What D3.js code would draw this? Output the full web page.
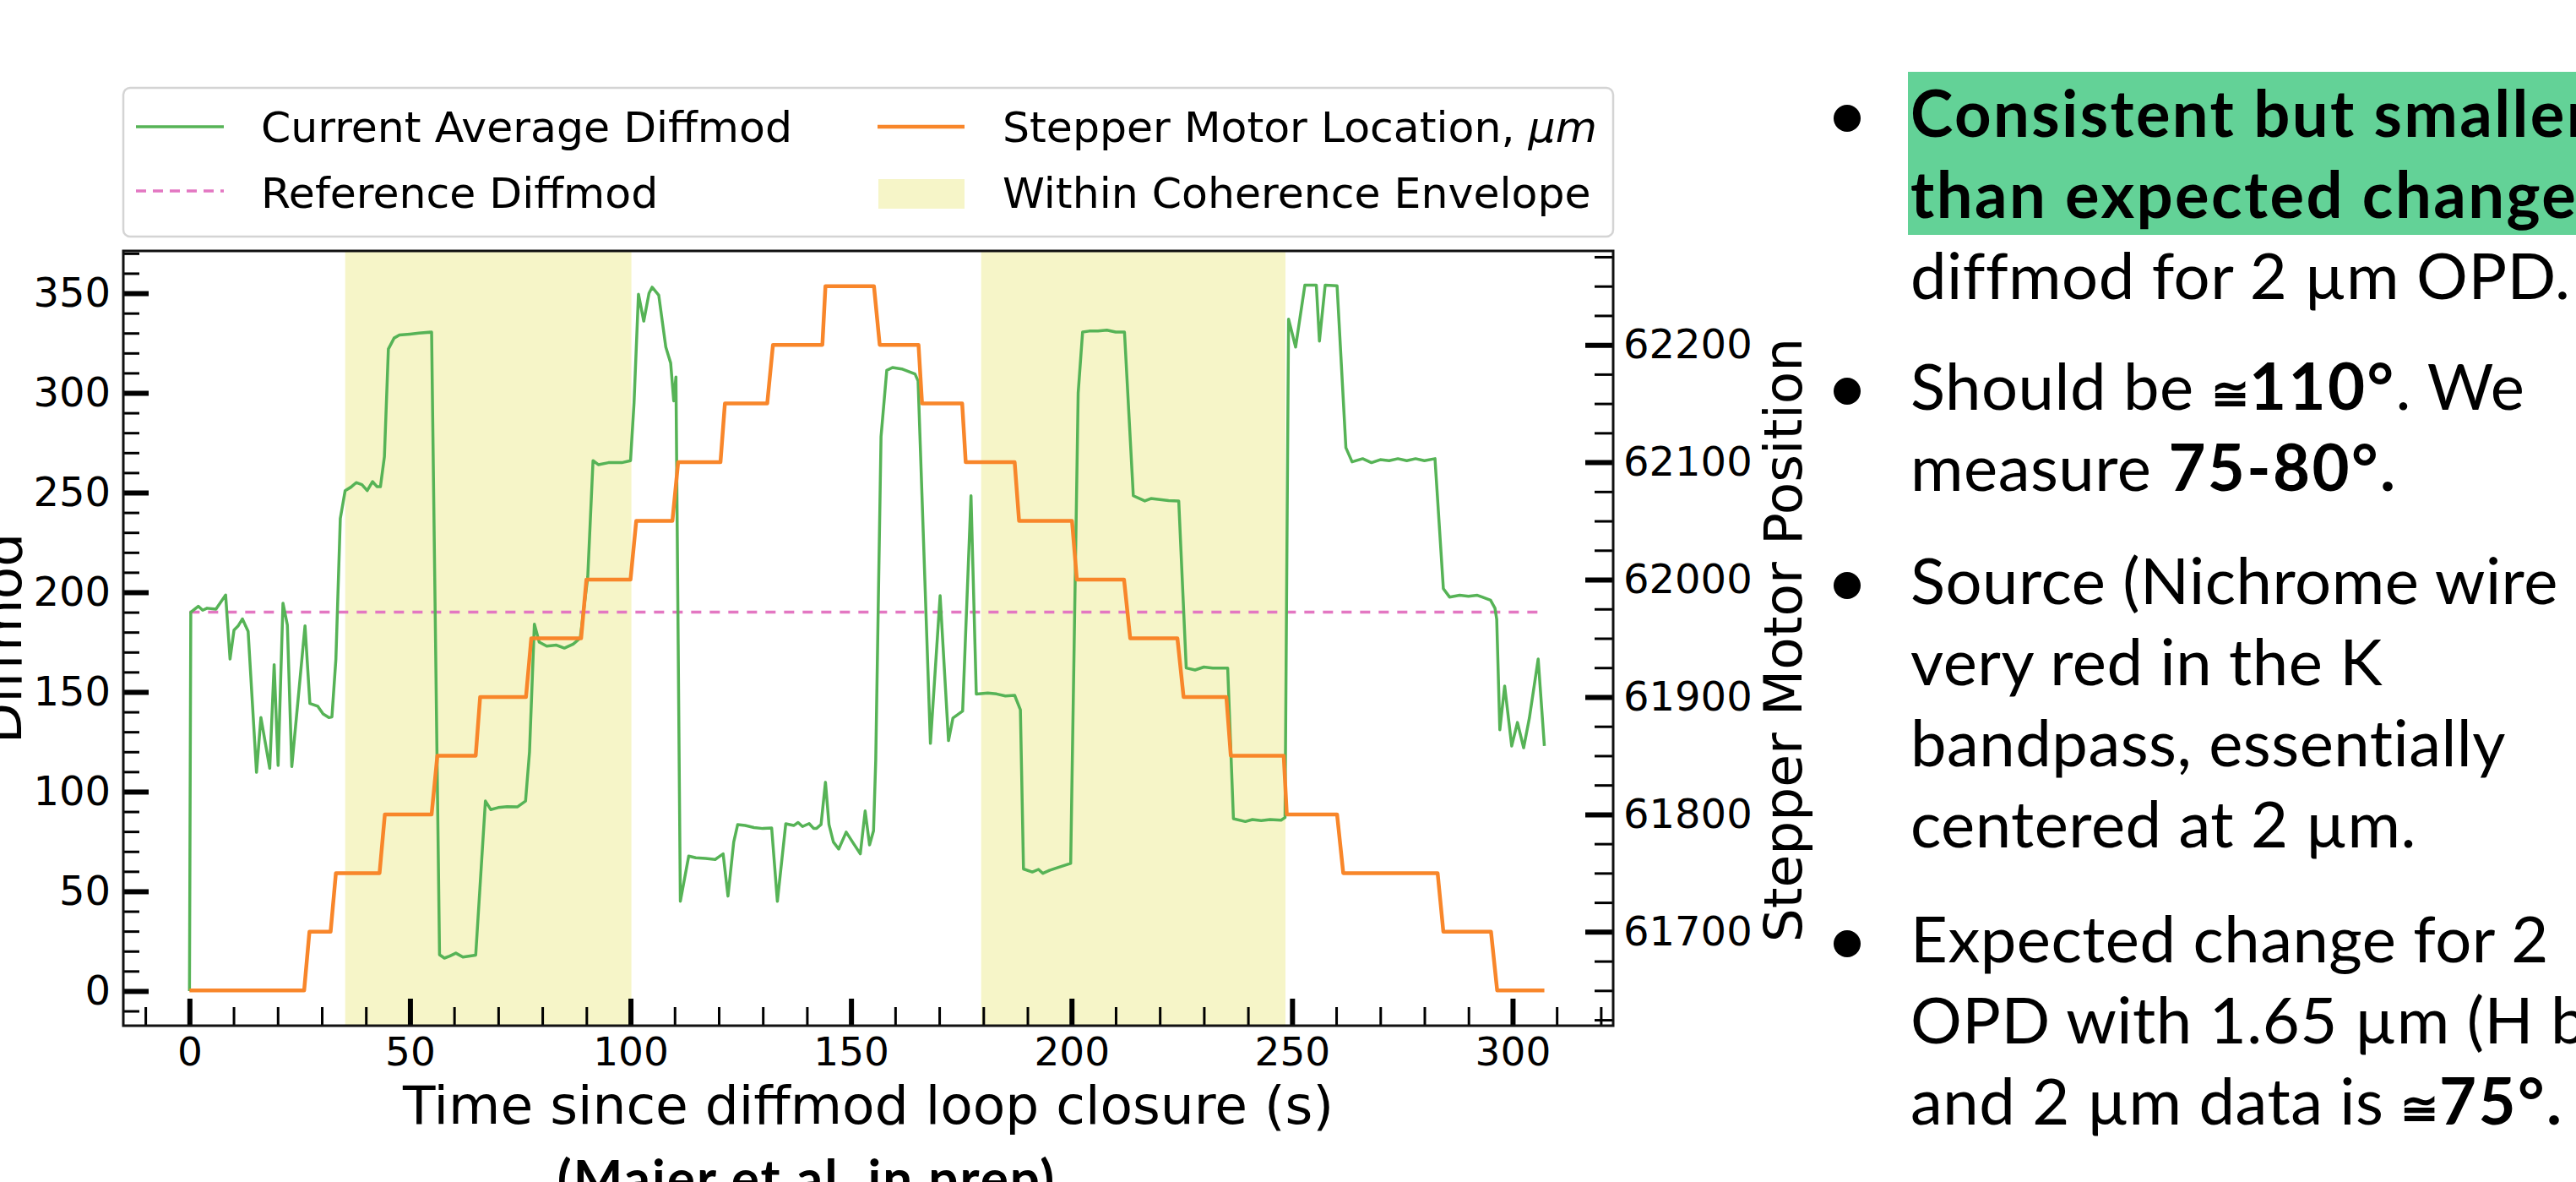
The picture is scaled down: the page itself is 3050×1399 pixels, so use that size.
<!DOCTYPE html>
<html>
<head>
<meta charset="utf-8">
<script src="https://cdn.jsdelivr.net/npm/d3@7"></script>
<style>
  html, body { margin: 0; padding: 0; background: #fff; }
  svg { display: block; }
</style>
</head>
<body>
<script>
// values
const diffmod = [
  [0, 0], [0.3, 190], [2, 193], [3, 191], [4, 192], [6, 191.5], [8.2, 198.6], [9.2, 166.5], [10.1, 181],
  [11, 183], [12, 186.6], [13.3, 180.4], [15.2, 109.7], [16.2, 137.2], [18.2, 111.7], [19.2, 163.7],
  [20.1, 113.1], [21.2, 194.5], [22.2, 183.5], [23.2, 112.6], [26.2, 183.2], [27.3, 144.2], [29.1, 142.8],
  [30.3, 139], [31.6, 137.2], [32.3, 137.5], [33.2, 166.5], [34.2, 237], [35.3, 251], [36.6, 252.7],
  [37.8, 255], [39.1, 254], [40.3, 251], [41.5, 255.5], [42.5, 253], [43.3, 253], [44.2, 268], [45.1, 322],
  [46.4, 327.5], [47.6, 329], [50, 329.5], [52, 330], [54.9, 330.5], [56.7, 18.2], [57.8, 16.5], [59, 17.5],
  [60.4, 19], [62, 17], [64.9, 18], [67.1, 95.3], [68.3, 91], [70, 92], [72, 92.5], [74.4, 92.4], [76.2, 95.3],
  [77.1, 120], [78.2, 184], [79.3, 175], [81, 173], [83.2, 173.5], [85, 172], [87, 174], [88.6, 177],
  [90.3, 207.6], [91.5, 266], [92.7, 264], [95, 265], [98, 265], [100, 266], [100.8, 295], [101.8, 349.5],
  [103, 336], [104.2, 350], [104.9, 353], [106.4, 349], [108, 323], [109.1, 315], [109.8, 296], [110.3, 308],
  [111.3, 45], [113.2, 67.7], [114.8, 66.8], [117, 66.5], [119.2, 66], [121, 68.8], [122.1, 47.6],
  [123.4, 74.7], [124.3, 83.5], [126, 83], [128, 82], [130, 81.5], [132, 81.8], [133.3, 45], [135.2, 83.9],
  [137, 83], [138, 84.5], [139, 82.5], [140.5, 84], [141.5, 81.6], [142.2, 81.6], [143.2, 83.5],
  [144.2, 104.7], [145, 83.5], [146, 74.7], [147.2, 71.2], [148.9, 79.7], [150.5, 74.2], [152.1, 68.8],
  [153.2, 90.3], [154.2, 73.3], [155.1, 80.4], [155.6, 115.7], [156.8, 278], [158.1, 311.3], [159.4, 312.7],
  [161.5, 312], [164.5, 309.5], [165.2, 306], [168, 124.2], [170.2, 198.3], [172.1, 125.6], [173.1, 136.9],
  [175.3, 140.4], [177.2, 248.4], [178.4, 148.9], [181, 149.5], [183, 149], [185, 148], [187.1, 148.3],
  [188.4, 141], [189.1, 61.2], [191.1, 59.7], [192.5, 61], [193.5, 59], [195, 60.5], [197, 62], [199.8, 64],
  [201.5, 300], [202.5, 330.5], [204, 331], [206, 331], [208, 331.5], [210, 330.5], [212, 330.5],
  [214, 248.4], [216.6, 245.8], [218, 247], [220, 246.5], [222, 246], [224.3, 245.8], [226, 162], [228, 161],
  [230, 162.5], [232, 162], [235.4, 162], [236.7, 86.4], [239.4, 85], [241, 86], [243, 85.5], [245, 86],
  [247.5, 85.7], [248.4, 87], [249.2, 337], [250.8, 323], [252.9, 354], [255.5, 354], [256.2, 326],
  [257.5, 354], [260.2, 353.7], [262.2, 272.5], [263.6, 265.4], [266, 267], [268, 265], [270, 266.5],
  [272, 266], [274, 267], [276, 266], [278, 267], [280, 266], [282.4, 267], [284.3, 201.8], [285.7, 197.6],
  [288, 198.5], [290, 198], [292, 198.5], [293.1, 197.6], [295, 196], [296, 192], [296.4, 186.4],
  [297.1, 131], [298.2, 153], [299.8, 122.9], [301.1, 134.7], [302.5, 122], [303.8, 136.9], [305.8, 166.5],
  [307.2, 122.9]
];

const stepper = [
  [0, 61650], [26, 61650], [27.2, 61700], [32, 61700], [33.2, 61750], [43.1, 61750], [44.3, 61800],
  [54.9, 61800], [56.2, 61850], [64.9, 61850], [65.9, 61900], [76.3, 61900], [77.5, 61950], [88.8, 61950],
  [90, 62000], [100, 62000], [101.3, 62050], [109.5, 62050], [110.8, 62100], [120.4, 62100], [121.4, 62150],
  [131, 62150], [132.3, 62200], [143.5, 62200], [144.2, 62250], [155.2, 62250], [156.5, 62200], [165.3, 62200],
  [166.1, 62150], [175.2, 62150], [176, 62100], [187.1, 62100], [188.1, 62050], [200.1, 62050], [201.2, 62000],
  [211.9, 62000], [213.3, 61950], [224, 61950], [225.4, 61900], [235.1, 61900], [236.1, 61850], [248.1, 61850],
  [248.8, 61800], [260.2, 61800], [261.6, 61750], [283, 61750], [284.3, 61700], [295.1, 61700], [296.5, 61650],
  [307.2, 61650]
];

const referenceDiffmod = 190;
const referenceRange = [0, 307.2];
const coherenceSpans = [[35.3, 100.2], [179.5, 248.5]];

const xTicks = [0, 50, 100, 150, 200, 250, 300];
const leftTicks = [0, 50, 100, 150, 200, 250, 300, 350];
const rightTicks = [61700, 61800, 61900, 62000, 62100, 62200];

const legendLabels = ["Current Average Diffmod", "Reference Diffmod", "Stepper Motor Location, ", "Within Coherence Envelope"];
const xLabel = "Time since diffmod loop closure (s)";
const leftLabel = "Diffmod";
const rightLabel = "Stepper Motor Position";
const citation = "(Maier et al. in prep)";

// right-hand notes, each line is a list of [text, style]; style: 0 regular, 1 bold, 2 bold symbol
const noteLines = [
  [["Consistent but smaller", 1]],
  [["than expected change", 1]],
  [["diffmod for 2 µm OPD.", 0]],
  [["Should be ", 0], ["≅", 2], ["110°", 1], [". We", 0]],
  [["measure ", 0], ["75-80°.", 1]],
  [["Source (Nichrome wire", 0]],
  [["very red in the K", 0]],
  [["bandpass, essentially", 0]],
  [["centered at 2 µm.", 0]],
  [["Expected change for 2", 0]],
  [["OPD with 1.65 µm (H ba", 0]],
  [["and 2 µm data is ", 0], ["≅", 2], ["75°.", 1]]
];

const W = 3050, H = 1399;
const plotLeft = 146, plotRight = 1910, plotTop = 297, plotBottom = 1214;
const green = "#56b356", orange = "#f8862a", pink = "#e377c2", span = "#f6f5c8";
const chartFont = "'DejaVu Sans', sans-serif";
const noteFont = "Lato, 'Open Sans', sans-serif";

const svg = d3.select("body").append("svg")
  .attr("width", W)
  .attr("height", H);

const x = d3.scaleLinear().domain([-15, 322.8]).range([plotLeft, plotRight]);
const yLeft = d3.scaleLinear().domain([-17.4, 371.2]).range([plotBottom, plotTop]);
const yRight = d3.scaleLinear().domain([61620, 62280]).range([plotBottom, plotTop]);

// coherence envelope bands
svg.append("g").selectAll("rect")
  .data(coherenceSpans)
  .join("rect")
  .attr("x", d => x(d[0]))
  .attr("width", d => x(d[1]) - x(d[0]))
  .attr("y", plotTop)
  .attr("height", plotBottom - plotTop)
  .attr("fill", span);

svg.append("line")
  .attr("x1", x(referenceRange[0]))
  .attr("x2", x(referenceRange[1]))
  .attr("y1", yLeft(referenceDiffmod))
  .attr("y2", yLeft(referenceDiffmod))
  .attr("stroke", pink)
  .attr("stroke-width", 3.5)
  .attr("stroke-dasharray", "12,10");

const diffLine = d3.line().x(d => x(d[0])).y(d => yLeft(d[1]));
svg.append("path")
  .attr("d", diffLine(diffmod))
  .attr("fill", "none")
  .attr("stroke", green)
  .attr("stroke-width", 3.5)
  .attr("stroke-linejoin", "round");

const stepLine = d3.line().x(d => x(d[0])).y(d => yRight(d[1]));
svg.append("path")
  .attr("d", stepLine(stepper))
  .attr("fill", "none")
  .attr("stroke", orange)
  .attr("stroke-width", 4.5)
  .attr("stroke-linejoin", "round");

// axes, ticks point inward
const styleAxis = function(g, width, size) {
  g.select(".domain").remove();
  g.selectAll(".tick line").attr("stroke", "#000").attr("stroke-width", width);
  g.selectAll(".tick text")
    .attr("fill", "#000")
    .attr("font-family", chartFont)
    .attr("font-size", size);
};

const xMinor = d3.range(-10, 321, 10).filter(v => v % 50 !== 0);
const leftMinor = d3.range(-10, 371, 10).filter(v => v % 50 !== 0);
const rightMinor = d3.range(61625, 62280, 25).filter(v => v % 100 !== 0);

svg.append("g")
  .attr("transform", `translate(0,${plotBottom})`)
  .call(d3.axisBottom(x).tickValues(xMinor).tickSize(-22).tickFormat(""))
  .call(g => styleAxis(g, 3, 0));
svg.append("g")
  .attr("transform", `translate(0,${plotBottom})`)
  .call(d3.axisBottom(x).tickValues(xTicks).tickSize(-32).tickPadding(14))
  .call(g => styleAxis(g, 6, 47));

svg.append("g")
  .attr("transform", `translate(${plotLeft},0)`)
  .call(d3.axisLeft(yLeft).tickValues(leftMinor).tickSize(-19).tickFormat(""))
  .call(g => styleAxis(g, 3, 0));
svg.append("g")
  .attr("transform", `translate(${plotLeft},0)`)
  .call(d3.axisLeft(yLeft).tickValues(leftTicks).tickSize(-30).tickPadding(15))
  .call(g => styleAxis(g, 6, 48));

svg.append("g")
  .attr("transform", `translate(${plotRight},0)`)
  .call(d3.axisRight(yRight).tickValues(rightMinor).tickSize(-22).tickFormat(""))
  .call(g => styleAxis(g, 3, 0));
svg.append("g")
  .attr("transform", `translate(${plotRight},0)`)
  .call(d3.axisRight(yRight).tickValues(rightTicks).tickSize(-33).tickPadding(12).tickFormat(d3.format("d")))
  .call(g => styleAxis(g, 6, 48));

svg.append("rect")
  .attr("x", plotLeft)
  .attr("y", plotTop)
  .attr("width", plotRight - plotLeft)
  .attr("height", plotBottom - plotTop)
  .attr("fill", "none")
  .attr("stroke", "#111")
  .attr("stroke-width", 3);

// axis titles
svg.append("text")
  .attr("x", (plotLeft + plotRight) / 2)
  .attr("y", 1330)
  .attr("text-anchor", "middle")
  .attr("font-family", chartFont)
  .attr("font-size", 63)
  .text(xLabel);

svg.append("text")
  .attr("transform", `translate(25,${(plotTop + plotBottom) / 2}) rotate(-90)`)
  .attr("text-anchor", "middle")
  .attr("font-family", chartFont)
  .attr("font-size", 63)
  .text(leftLabel);

svg.append("text")
  .attr("transform", `translate(2133,${(plotTop + plotBottom) / 2 + 2}) rotate(-90)`)
  .attr("text-anchor", "middle")
  .attr("font-family", chartFont)
  .attr("font-size", 63)
  .text(rightLabel);

// legend
const legend = svg.append("g");
legend.append("rect")
  .attr("x", plotLeft)
  .attr("y", 104)
  .attr("width", plotRight - plotLeft)
  .attr("height", 176)
  .attr("rx", 8)
  .attr("fill", "#fff")
  .attr("stroke", "#d4d4d4")
  .attr("stroke-width", 2.5);

const legendX = [161, 1039];
const legendY = [150, 228];
const legendText = function(label, col, row) {
  return legend.append("text")
    .attr("x", legendX[col] + 148)
    .attr("y", legendY[row])
    .attr("dy", "0.36em")
    .attr("font-family", chartFont)
    .attr("font-size", 50.5)
    .text(label);
};

legend.append("line")
  .attr("x1", legendX[0]).attr("x2", legendX[0] + 104)
  .attr("y1", legendY[0]).attr("y2", legendY[0])
  .attr("stroke", green).attr("stroke-width", 3.5);
legendText(legendLabels[0], 0, 0);

legend.append("line")
  .attr("x1", legendX[0]).attr("x2", legendX[0] + 104)
  .attr("y1", legendY[1] - 2).attr("y2", legendY[1] - 2)
  .attr("stroke", pink).attr("stroke-width", 3.5)
  .attr("stroke-dasharray", "12,8");
legendText(legendLabels[1], 0, 1);

legend.append("line")
  .attr("x1", legendX[1]).attr("x2", legendX[1] + 103)
  .attr("y1", legendY[0]).attr("y2", legendY[0])
  .attr("stroke", orange).attr("stroke-width", 4.5);
legendText(legendLabels[2], 1, 0)
  .append("tspan")
  .attr("font-style", "italic")
  .text("μm");

legend.append("rect")
  .attr("x", legendX[1] + 1).attr("y", 212)
  .attr("width", 102).attr("height", 35)
  .attr("fill", span);
legendText(legendLabels[3], 1, 1);

// citation under the plot, cut by the bottom edge
svg.append("text")
  .attr("x", 955)
  .attr("y", 1417)
  .attr("text-anchor", "middle")
  .attr("font-family", noteFont)
  .attr("font-weight", 700)
  .attr("font-size", 62)
  .attr("letter-spacing", 2)
  .text(citation);

// notes column
svg.append("rect")
  .attr("x", 2259)
  .attr("y", 85)
  .attr("width", W - 2259)
  .attr("height", 193)
  .attr("fill", "#63d297");

const noteBaselines = [162, 258, 354, 485, 581, 715, 811, 907, 1003, 1139, 1235, 1331];
const bulletLines = [0, 3, 5, 9];

const notes = svg.append("g")
  .attr("font-family", noteFont)
  .attr("font-size", 76)
  .attr("fill", "#000");

noteLines.forEach(function(segments, i) {
  const t = notes.append("text")
    .attr("x", 2262)
    .attr("y", noteBaselines[i]);
  segments.forEach(function(s) {
    t.append("tspan")
      .attr("font-weight", s[1] ? 700 : 400)
      .attr("font-size", s[1] === 2 ? 54 : null)
      .attr("letter-spacing", s[1] === 1 ? 2.4 : 0.5)
      .text(s[0]);
  });
});

notes.selectAll("circle")
  .data(bulletLines)
  .join("circle")
  .attr("cx", 2187)
  .attr("cy", i => noteBaselines[i] - 22)
  .attr("r", 16)
  .attr("fill", "#000");
</script>
</body>
</html>
